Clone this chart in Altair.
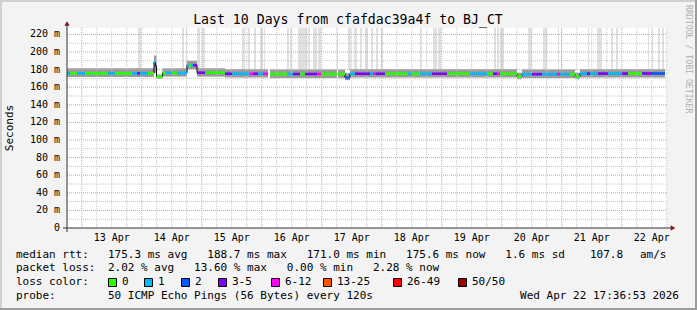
import altair as alt
import pandas as pd

# ---------------- data ----------------
# time = hours since 12 Apr 00:00 ; values in milliseconds
x_domain = [18.1, 258.1]
y_domain = [0, 227.27]

seg_start = [18.1, 19.3, 22.1, 25.3, 34.5, 37.3, 44.1, 46.1, 47.3, 50.5,
             52.9, 53.5, 53.9, 56.3, 57.7, 60.1, 62.1, 66.1, 66.9, 67.7,
             68.5, 70.1, 73.3, 81.3, 84.1, 91.3, 92.5, 94.5, 96.5, 99.3,
             106.1, 108.5, 111.3, 113.3, 118.1, 119.7, 126.5, 129.3, 131.3, 133.3,
             139.3, 140.5, 141.7, 145.3, 154.5, 156.1, 159.3, 164.1, 170.1, 179.3,
             186.1, 188.5, 190.1, 191.3, 198.1, 200.1, 204.1, 208.1, 214.1, 215.3,
             219.3, 221.3, 223.3, 226.1, 227.3, 230.5, 234.5, 240.1, 242.5, 248.1,
             252.1]
seg_end = [19.3, 22.1, 25.3, 34.5, 37.3, 44.1, 46.1, 47.3, 50.5, 52.9,
           53.5, 53.9, 56.3, 57.7, 60.1, 62.1, 66.1, 66.9, 67.7, 68.5,
           70.1, 73.3, 81.3, 84.1, 91.3, 92.5, 94.5, 96.5, 98.5, 106.1,
           108.5, 111.3, 113.3, 118.1, 119.7, 126.1, 129.3, 131.3, 133.3, 139.3,
           140.5, 141.7, 145.3, 154.5, 156.1, 159.3, 164.1, 170.1, 179.3, 186.1,
           188.5, 190.1, 191.3, 198.1, 200.1, 204.1, 208.1, 214.1, 215.3, 219.3,
           221.3, 223.3, 226.1, 227.3, 230.5, 234.5, 240.1, 242.5, 248.1, 252.1,
           257.3]
seg_median = [175.7, 175.7, 175.7, 175.7, 175.7, 175.7, 175.7, 175.7, 175.7, 175.7,
              188.7, 184.0, 172.0, 176.2, 176.2, 176.2, 176.2, 185.0, 185.0, 185.0,
              185.0, 176.4, 176.4, 175.3, 175.3, 175.3, 175.3, 175.3, 175.3, 175.0,
              175.0, 175.0, 175.0, 175.0, 175.0, 175.0, 175.0, 171.0, 175.3, 175.3,
              175.3, 175.3, 175.3, 175.3, 175.3, 175.3, 175.3, 175.3, 175.3, 175.3,
              175.3, 175.3, 175.3, 175.3, 172.0, 174.8, 174.8, 174.8, 174.8, 174.8,
              174.8, 172.0, 175.5, 175.5, 175.5, 175.5, 175.5, 175.5, 175.5, 175.6,
              175.6]
seg_loss = [1, 0, 1, 0, 1, 0, 1, 3, 1, 0,
            1, 3, 0, 0, 1, 0, 1, 1, 0, 1,
            3, 3, 0, 3, 1, 4, 3, 1, 4, 0,
            1, 3, 0, 3, 4, 0, 0, 2, 1, 3,
            1, 4, 3, 0, 1, 0, 1, 3, 0, 1,
            0, 3, 4, 0, 0, 1, 3, 1, 4, 1,
            0, 0, 1, 3, 1, 3, 1, 3, 0, 3,
            2]

smoke_start = [18.1, 52.9, 53.9, 56.3, 66.1, 70.1, 81.3, 99.3, 126.5, 129.3, 131.3, 198.1, 200.1, 221.3, 223.3]
smoke_end = [52.9, 53.9, 56.3, 66.1, 70.1, 81.3, 98.5, 126.1, 129.3, 131.3, 198.1, 200.1, 221.3, 223.3, 257.3]
smoke_lo = [171.5, 176.0, 169.5, 172.0, 180.5, 172.0, 171.0, 170.5, 170.5, 168.0, 171.0, 169.0, 170.5, 169.0, 171.0]
smoke_hi = [181.5, 196.0, 174.5, 181.5, 190.0, 181.5, 180.5, 180.0, 180.0, 176.0, 180.5, 176.5, 180.0, 176.5, 180.5]

stripe_start = [46.5, 64.1, 65.7, 70.1, 72.1, 88.1, 90.5, 92.9, 95.3, 96.9,
                106.1, 107.3, 110.5, 114.5, 116.5, 118.5, 126.1, 130.5, 132.9, 135.3,
                137.3, 139.7, 141.7, 143.7, 159.3, 164.5, 166.5, 188.9, 190.1, 191.3,
                202.5, 208.5, 214.5, 215.7, 226.5, 230.1, 235.7, 237.7, 250.5, 252.1,
                254.5, 256.1]
stripe_end = [47.7, 64.9, 66.1, 71.3, 73.3, 89.3, 91.3, 93.7, 96.5, 97.3,
              106.9, 108.1, 114.1, 115.3, 118.1, 119.7, 126.5, 131.7, 134.1, 136.1,
              138.5, 140.5, 142.5, 144.5, 160.1, 166.1, 167.7, 189.7, 190.9, 192.9,
              204.1, 210.1, 214.9, 216.1, 226.9, 232.1, 236.5, 238.5, 250.9, 252.5,
              255.3, 256.9]
stripe_floor = 180.0

loss_labels = ["0", "1", "2", "3-5", "6-12", "13-25", "26-49", "50/50"]
loss_colors = ["#26ff00", "#00b8ff", "#0059ff", "#7e00ff", "#ff00ff", "#ff5500", "#ff0000", "#a10000"]

day_labels = ["13 Apr", "14 Apr", "15 Apr", "16 Apr", "17 Apr",
              "18 Apr", "19 Apr", "20 Apr", "21 Apr", "22 Apr"]
day_noon_h = [36, 60, 84, 108, 132, 156, 180, 204, 228, 252]
x_major_h = [24, 48, 72, 96, 120, 144, 168, 192, 216, 240]
x_minor_h = [30, 36, 42, 54, 60, 66, 78, 84, 90, 102, 108, 114, 126, 132, 138,
             150, 156, 162, 174, 180, 186, 198, 204, 210, 222, 228, 234, 246, 252, 258]
y_ticks = [0, 20, 40, 60, 80, 100, 120, 140, 160, 180, 200, 220]
y_tick_labels = ["0", "20 m", "40 m", "60 m", "80 m", "100 m", "120 m",
                 "140 m", "160 m", "180 m", "200 m", "220 m"]
y_major = [20, 40, 60, 80, 100, 120, 140, 160, 180, 200, 220]
y_minor = [10, 30, 50, 70, 90, 110, 130, 150, 170, 190, 210]

rtt_stats = [175.3, 188.7, 171.0, 175.6, 1.6]
rtt_rate = "107.8"
loss_stats = [2.02, 13.60, 0.00, 2.28]

title_text = "Last 10 Days from cfafdac39a4f to BJ_CT"
probe_text = "50 ICMP Echo Pings (56 Bytes) every 120s"
stamp_text = "Wed Apr 22 17:36:53 2026"

# ---------------- tables ----------------
W, H = 600, 200
MONO = "DejaVu Sans Mono"
NB = "\u00a0"

segs = pd.DataFrame({"start": seg_start, "end": seg_end, "median": seg_median,
                     "loss": [loss_labels[i] for i in seg_loss]})
pts = []
grp = 0
for i in range(len(seg_start)):
    if i > 0 and seg_start[i] != seg_end[i - 1]:
        grp += 1
    pts.append({"h": seg_start[i], "v": seg_median[i], "g": grp, "o": 2 * i})
    pts.append({"h": seg_end[i], "v": seg_median[i], "g": grp, "o": 2 * i + 1})
line_pts = pd.DataFrame(pts)
smoke = pd.DataFrame({"start": smoke_start, "end": smoke_end, "lo": smoke_lo, "hi": smoke_hi})
stripes = pd.DataFrame({"start": stripe_start, "end": stripe_end})
stripes["floor"] = stripe_floor
stripes["top"] = y_domain[1]

xs = alt.Scale(domain=x_domain, nice=False, zero=False)
ys = alt.Scale(domain=y_domain, nice=False, zero=False)
one = pd.DataFrame({"k": [0]})


def X(f):
    return alt.X(f, scale=xs, axis=None)


def Y(f):
    return alt.Y(f, scale=ys, axis=None)


layers = []

# canvas 3D frame
frame = [(-67, -28, 630, -26, "#d0d0d0"), (-67, -28, -65, 282, "#d0d0d0"),
         (-67, 280, 630, 282, "#9c9c9c"), (628, -28, 630, 282, "#9c9c9c")]
for x1, y1, x2, y2, c in frame:
    layers.append(alt.Chart(one).mark_rect(color=c).encode(
        x=alt.value(x1), x2=alt.value(x2), y=alt.value(y1), y2=alt.value(y2)))

# stripes of outliers beyond the top
layers.append(alt.Chart(stripes).mark_rect(color="#e0e0e0").encode(
    x=X("start:Q"), x2="end:Q", y=Y("floor:Q"), y2="top:Q"))

# smoke
layers.append(alt.Chart(smoke).mark_rect(color="#9a9a9a").encode(
    x=X("start:Q"), x2="end:Q", y=Y("lo:Q"), y2="hi:Q"))

# grid
layers.append(alt.Chart(pd.DataFrame({"h": x_minor_h})).mark_rule(
    color="#c4c4c4", strokeDash=[1, 1], strokeWidth=1).encode(
    x=X("h:Q"), y=alt.value(0), y2=alt.value(H)))
layers.append(alt.Chart(pd.DataFrame({"v": y_minor})).mark_rule(
    color="#c4c4c4", strokeDash=[1, 1], strokeWidth=1).encode(
    y=Y("v:Q"), x=alt.value(0), x2=alt.value(W)))
layers.append(alt.Chart(pd.DataFrame({"h": x_major_h})).mark_rule(
    color="#e89a9a", strokeDash=[1, 1], strokeWidth=1).encode(
    x=X("h:Q"), y=alt.value(0), y2=alt.value(H)))
layers.append(alt.Chart(pd.DataFrame({"v": y_major})).mark_rule(
    color="#e89a9a", strokeDash=[1, 1], strokeWidth=1).encode(
    y=Y("v:Q"), x=alt.value(0), x2=alt.value(W)))

# median line
layers.append(alt.Chart(line_pts).mark_line(color="#000000", strokeWidth=1).encode(
    x=X("h:Q"), y=Y("v:Q"), detail="g:N", order="o:Q"))
layers.append(alt.Chart(segs).mark_rule(strokeWidth=2.6, strokeCap="butt").encode(
    x=X("start:Q"), x2="end:Q", y=Y("median:Q"),
    color=alt.Color("loss:N", scale=alt.Scale(domain=loss_labels, range=loss_colors), legend=None)))

# axes
layers.append(alt.Chart(one).mark_rule(color="#303030", strokeWidth=1).encode(
    x=alt.value(-4), x2=alt.value(604), y=alt.value(H)))
layers.append(alt.Chart(one).mark_rule(color="#303030", strokeWidth=1).encode(
    x=alt.value(0), y=alt.value(-3), y2=alt.value(H + 4)))
layers.append(alt.Chart(one).mark_point(shape="triangle-up", filled=True, size=28,
                                        color="#7d1a1a", opacity=1).encode(
    x=alt.value(0), y=alt.value(-4.5)))
layers.append(alt.Chart(one).mark_point(shape="triangle-right", filled=True, size=28,
                                        color="#7d1a1a", opacity=1).encode(
    x=alt.value(606), y=alt.value(H)))

# axis labels
layers.append(alt.Chart(pd.DataFrame({"v": y_ticks, "t": y_tick_labels})).mark_text(
    font=MONO, fontSize=10, align="right", baseline="middle", color="#000000").encode(
    y=Y("v:Q"), x=alt.value(-7), text="t:N"))
layers.append(alt.Chart(pd.DataFrame({"h": day_noon_h, "t": day_labels})).mark_text(
    font=MONO, fontSize=10, align="center", baseline="middle", color="#000000").encode(
    x=X("h:Q"), y=alt.value(H + 10), text="t:N"))


def txt(s, x, y, size=11, align="left", angle=0, color="#000000"):
    kw = dict(font=MONO, fontSize=size, align=align, baseline="middle",
              color=color, text=s.replace(" ", NB))
    if angle:
        kw["angle"] = angle
    return alt.Chart(one).mark_text(**kw).encode(x=alt.value(x), y=alt.value(y))


layers.append(txt(title_text, 281, -8.5, size=13.2, align="center"))
layers.append(txt("Seconds", -57, 100, size=11, align="center", angle=270))
layers.append(txt("RRDTOOL / TOBI OETIKER", 621, -23, size=8.2, angle=90, color="#b0b0b0"))

line1 = "{:.1f} ms avg   {:.1f} ms max   {:.1f} ms min   {:.1f} ms now   {:.1f} ms sd".format(*rtt_stats)
line2 = "{:.2f} % avg   {:.2f} % max   {:.2f} % min   {:.2f} % now".format(*loss_stats)
layers.append(txt("median rtt:", -51, 227))
layers.append(txt(line1, 41, 227))
layers.append(txt(rtt_rate, 523, 227))
layers.append(txt("am/s", 573, 227))
layers.append(txt("packet loss:", -51, 240))
layers.append(txt(line2, 41, 240))
layers.append(txt("loss color:", -51, 254))
swatch_x = [41, 77, 114, 151, 204, 256, 326, 391]
for sx, lab, col in zip(swatch_x, loss_labels, loss_colors):
    layers.append(alt.Chart(one).mark_rect(color=col, stroke="#000000", strokeWidth=1).encode(
        x=alt.value(sx + 0.5), x2=alt.value(sx + 8.5), y=alt.value(250.5), y2=alt.value(258.5)))
    layers.append(txt(lab, sx + 14, 254))
layers.append(txt("probe:", -51, 268))
layers.append(txt(probe_text, 41, 268))
layers.append(txt(stamp_text, 612, 268, align="right"))

chart = alt.layer(*layers).properties(
    width=W, height=H,
    autosize=alt.AutoSizeParams(type="none"),
    padding={"left": 67, "top": 28, "right": 30, "bottom": 82},
    background="#f3f3f3",
).configure_view(fill="#ffffff", strokeWidth=0)

chart.save("out.html", embed_options={"renderer": "svg", "actions": False})
